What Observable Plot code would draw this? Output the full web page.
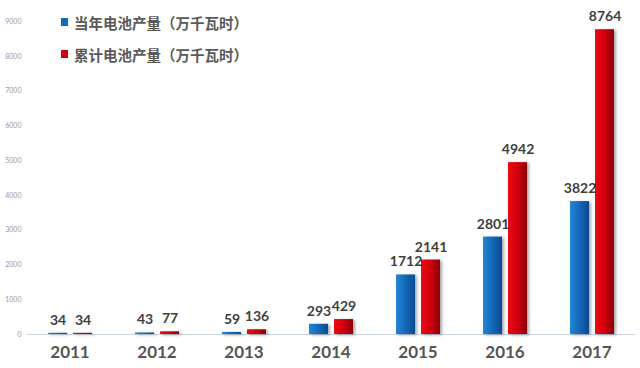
<!DOCTYPE html>
<html><head><meta charset="utf-8">
<script src="https://cdn.jsdelivr.net/npm/d3@7"></script>
<script src="https://cdn.jsdelivr.net/npm/@observablehq/plot@0.6"></script>
<style>
body{margin:0;background:#fff;}
#wrap{position:relative;width:640px;height:368px;}
#legend{position:absolute;left:61px;top:11px;font-family:"Noto Sans CJK SC";font-weight:700;font-size:14.5px;color:#595959;}
.row{display:flex;align-items:center;height:22px;margin-bottom:10px;white-space:nowrap;}
.sw{width:7px;height:8px;margin-right:6px;}
g[aria-label="bar"] rect{filter:drop-shadow(2px 1px 1.5px rgba(0,0,0,0.35));}
</style></head><body><div id="wrap"><div id="legend"></div></div>
<script>
const years = ["2011","2012","2013","2014","2015","2016","2017"];
const annual = [34, 43, 59, 293, 1712, 2801, 3822];
const cumulative = [34, 77, 136, 429, 2141, 4942, 8764];
const seriesNames = ["当年电池产量（万千瓦时）", "累计电池产量（万千瓦时）"];
const seriesColors = ["#1468b8", "#d0000e"];
const yTicks = [0,1000,2000,3000,4000,5000,6000,7000,8000,9000];

const data = years.flatMap((yr, i) => [
  {year: yr, series: seriesNames[0], value: annual[i]},
  {year: yr, series: seriesNames[1], value: cumulative[i]}
]);

const chart = Plot.plot({
  width: 640, height: 368,
  marginTop: 21, marginBottom: 34, marginLeft: 26, marginRight: 5,
  style: {fontFamily: "Lato", background: "#fff"},
  fx: {domain: years, padding: 0, label: null, axis: null},
  x: {domain: seriesNames, paddingInner: 0.24, paddingOuter: 0.86, axis: null},
  y: {domain: [0, 9000], axis: null},
  marks: [
    Plot.axisY({ticks: yTicks, tickSize: 0, tickPadding: 5, fontSize: 7, color: "#999", label: null, tickFormat: d => String(d)}),
    Plot.axisFx({anchor: "bottom", tickSize: 0, tickPadding: 11, fontSize: 17, fontWeight: "bold", color: "#555", label: null}),
    Plot.ruleY([0], {stroke: "#c9d5e2", strokeWidth: 1}),
    Plot.barY(data, {filter: d => d.series === seriesNames[0], fx: "year", x: "series", y: "value", fill: "url(#gBlue)"}),
    Plot.barY(data, {filter: d => d.series === seriesNames[1], fx: "year", x: "series", y: "value", fill: "url(#gRed)"}),
    Plot.text(data, {fx: "year", x: "series", y: "value", text: d => String(d.value), dy: -13, fontSize: 14, fontWeight: "bold", fill: "#404040"})
  ]
});

d3.select(chart).insert("defs", ":first-child").html(
  `<linearGradient id="gBlue" x1="0" x2="1" y1="0" y2="0">
     <stop offset="0" stop-color="#2286d6"/><stop offset="0.5" stop-color="#1468b8"/><stop offset="1" stop-color="#0a4a90"/>
   </linearGradient>
   <linearGradient id="gRed" x1="0" x2="1" y1="0" y2="0">
     <stop offset="0" stop-color="#ec0a12"/><stop offset="0.5" stop-color="#d0000e"/><stop offset="1" stop-color="#8a0008"/>
   </linearGradient>`
);

document.getElementById("wrap").prepend(chart);
const legend = d3.select("#legend");
seriesNames.forEach((name, i) => {
  const row = legend.append("div").attr("class", "row");
  row.append("div").attr("class", "sw").style("background", seriesColors[i]);
  row.append("span").text(name);
});
</script>
</body></html>
